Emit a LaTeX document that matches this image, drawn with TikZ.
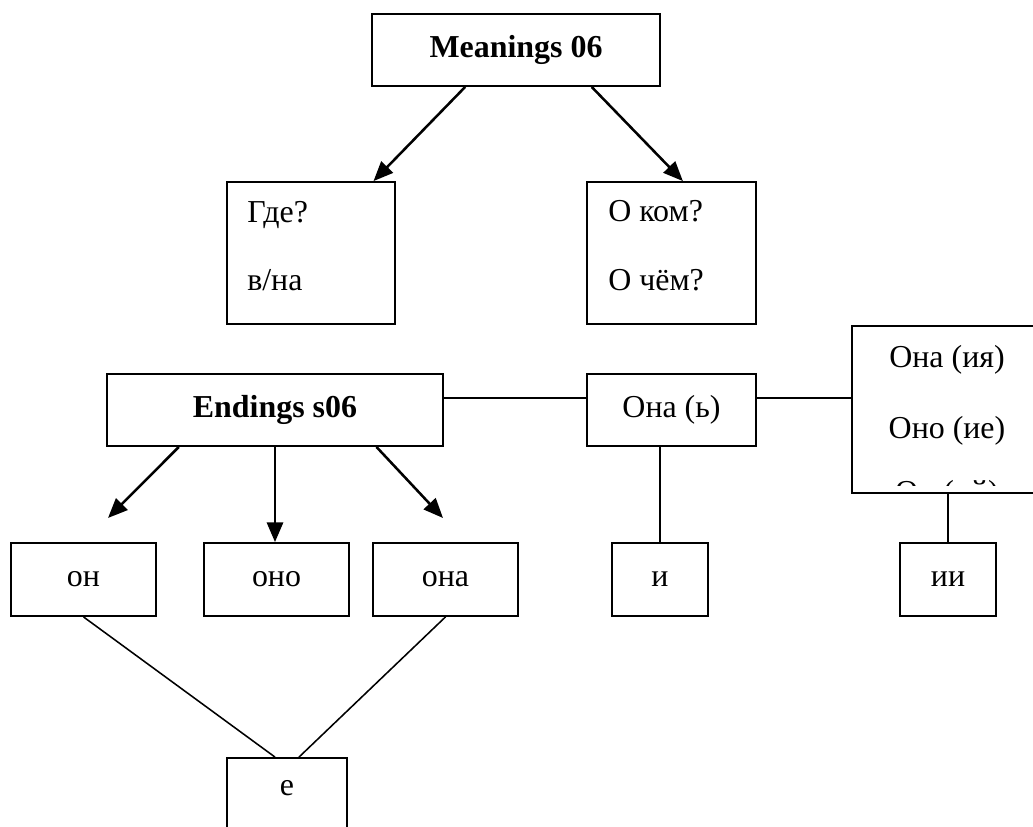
\documentclass[tikz,border=0pt]{standalone}
\usepackage{fontspec}
\setmainfont{Liberation Serif}
\usetikzlibrary{arrows.meta, positioning}

\begin{document}
\begin{tikzpicture}[x=0.025cm, y=-0.025cm,
        font=\fontsize{22.7}{27}\selectfont,
        box/.style 2 args={draw, line width=1.3pt, inner sep=0pt,
            minimum width=#1*0.025cm, minimum height=#2*0.025cm},
        arr/.style={-{Triangle[length=14pt, width=11.5pt]}, line width=1.8pt},
        link/.style={line width=1.1pt}]
        \useasboundingbox (0,0) rectangle (1033,827);
        % meanings
        \node[box={288}{72}] (meanings) at (516,50) {\bfseries Meanings 06};
        \node[box={168}{142}] (where) at (311,253) {};
        \node[box={169}{142}] (about) at (671.5,253) {};
        \foreach \name/\x/\y/\lbl in {
            whereq/247/223/{Где?},
            wherep/247/290/{в/на},
            aboutq/608/222/{О ком?},
            aboutp/608/290/{О чём?}}
        {
            \node[anchor=base west, inner sep=0pt] (\name) at (\x,\y) {\lbl};
        }
        \draw[arr] (meanings.216) -- (where.49);
        \draw[arr] (meanings.334) -- (about.81);
        % endings
        \node[box={336}{72}] (endings) at (275,410) {\bfseries Endings s06};
        \node[box={169}{72}] (soft) at (671.5,410) {Она (ь)};
        \node[box={190}{167}] (ija) at (947,409.5) {};
        \begin{scope}
            \clip (852,326) rectangle (1042,485);
            \foreach \name/\y/\lbl in {ija1/367/{Она (ия)}, ija2/438/{Оно (ие)}, ija3/502/{Он (ий)}}
                \node[anchor=base, inner sep=0pt] (\name) at (947,\y) {\lbl};
        \end{scope}
        \foreach \name/\x/\w/\lbl in {
            on/83.5/145/{он},
            ono/276.5/145/{оно},
            ona/445.5/145/{она},
            i/660/96/{и},
            ii/948/96/{ии}}
        {
            \node[box={\w}{73}] (\name) at (\x,579.5) {\lbl};
        }
        \node[box={120}{72}, text depth=0.3cm] (e) at (287,794) {е};
        \coordinate (tipleft) at (108,518);
        \coordinate (tipright) at (443,518);
        \draw[arr] (endings.201) -- (tipleft);
        \draw[arr] (endings.south) -- (endings.south |- ono.north);
        \draw[arr] (endings.340) -- (tipright);
        \draw[link] ([yshift=0.3cm]endings.east) -- ([yshift=0.3cm]soft.west);
        \draw[link] ([yshift=0.3cm]soft.east) -- ([yshift=0.3cm]soft.east -| ija.west);
        \draw[link] (i.north) -- (i.north |- soft.south);
        \draw[link] (ii.north) -- (ii.north |- ija.south);
        \draw[link] (on.south) -- (e.108);
        \draw[link] (ona.south) -- (e.72);
    \end{tikzpicture}
\end{document}
